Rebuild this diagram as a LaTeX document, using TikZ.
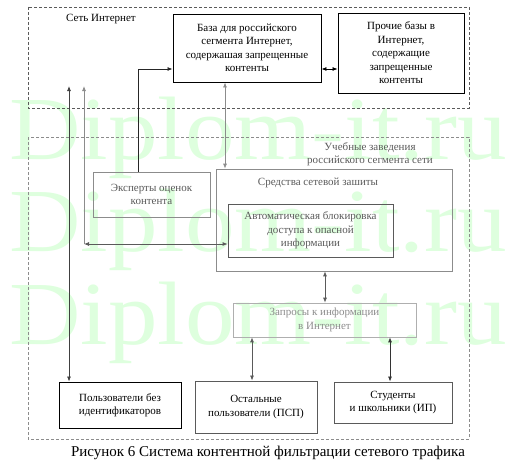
\documentclass[tikz,border=0pt]{standalone}
\usepackage{fontspec}
\setmainfont{Liberation Serif}
\usetikzlibrary{arrows.meta,calc}
\definecolor{wm}{RGB}{222,255,222}
\definecolor{g1}{RGB}{90,90,90}
\definecolor{g2}{RGB}{140,140,140}
\definecolor{g3}{RGB}{175,175,175}
\tikzset{
  box/.style={draw, line width=0.9pt, align=center, inner sep=1pt,
    font=\fontsize{11}{13.5}\selectfont},
  graybox/.style={box, draw=g2, text=g1, line width=0.7pt},
  lightbox/.style={box, draw=g3, text=g2, line width=0.7pt},
  dashbox/.style={draw, dash pattern=on 3pt off 2pt, line width=0.8pt},
  conn/.style={line width=0.8pt, {Latex[length=5pt,width=4pt]}-{Latex[length=5pt,width=4pt]}},
  oneway/.style={line width=0.8pt, -{Latex[length=5pt,width=4pt]}},
  wmark/.style={text=wm, font=\fontsize{90}{92}\selectfont, xscale=1.1, inner sep=0pt, anchor=base}
}
\begin{document}
\begin{tikzpicture}[x=1pt,y=-1pt]
\useasboundingbox (0,0) rectangle (513,460);
\fill[white] (0,0) rectangle (513,460);
% watermark
\node[wmark] (wm1) at (258,159) {Diplom-it.ru};
\node[wmark] (wm2) at (258,251) {Diplom-it.ru};
\node[wmark] (wm3) at (258,344) {Diplom-it.ru};
% dashed regions
\draw[dashbox, draw=g1] (28,7) rectangle (469,108);
\draw[dashbox, draw=g2] (28,137) rectangle (469,439);
\node[font=\fontsize{11}{13}\selectfont, anchor=west, inner sep=0pt] (net) at (66,19) {Сеть Интернет};
\node[font=\fontsize{11}{13.5}\selectfont, text=g1, align=center, inner sep=0pt] (edu) at (370,154) {Учебные заведения\\российского сегмента сети};
% top boxes
\node[box, minimum width=148pt, minimum height=68pt] (base) at (247,48)
  {База для российского\\сегмента Интернет,\\содержашая запрещенные\\контенты};
\node[box, minimum width=126pt, minimum height=80pt] (other) at (401,53)
  {Прочие базы в\\Интернет,\\содержащие\\запрещенные\\контенты};
% middle
\node[graybox, minimum width=117pt, minimum height=45pt] (exp) at (151.5,194.5)
  {Эксперты оценок\\контента};
\node[graybox, draw=g2, minimum width=236pt, minimum height=102pt] (sred) at (334,220) {};
\node[font=\fontsize{11}{13}\selectfont, text=g1, inner sep=0pt] (sredl) at (318,183) {Средства сетевой зашиты};
\node[box, draw=g1, text=g1, line width=0.8pt, minimum width=165pt, minimum height=53pt] (auto) at (310.5,230.5)
  {Автоматическая блокировка\\доступа к опасной\\информации};
\node[lightbox, minimum width=183pt, minimum height=34pt] (zap) at (324.5,320)
  {Запросы к информации\\в Интернет};
% bottom
\node[box, minimum width=122pt, minimum height=46pt] (pbi) at (120,405)
  {Пользователи без\\идентификаторов};
\node[box, draw=g1, minimum width=122pt, minimum height=52pt] (psp) at (256,407)
  {Остальные\\пользователи (ПСП)};
\node[box, draw=g1, minimum width=118pt, minimum height=41pt] (ip) at (393,402.5)
  {Студенты\\и школьники (ИП)};
% helper coordinates
\coordinate (x69) at (69,86);
\coordinate (x84) at (84,86);
\coordinate (c84) at (84,244);
\coordinate (x138) at (138,0);
\coordinate (y69) at (0,69);
\coordinate (x225) at (225,0);
\coordinate (x325) at (325,0);
\coordinate (x252) at (252,0);
\coordinate (x390) at (390,0);
% connectors
\draw[conn, draw=black] (base.east |- y69) -- (other.west |- y69);
\draw[oneway, draw=black!85] (exp.north -| x138) |- (base.west |- y69);
\draw[conn, draw=g2] (base.south -| x225) -- (sred.north -| x225);
\draw[conn, draw=black!75] (pbi.north -| x69) -- (x69);
\draw[oneway, draw=g2] (c84) -- (x84);
\draw[conn, draw=g1] (c84) -- (auto.west |- c84);
\draw[conn, draw=g1] (sred.south -| x325) -- (zap.north -| x325);
\draw[conn, draw=g1] (zap.south -| x252) -- (psp.north -| x252);
\draw[conn, draw=black!80] (zap.south -| x390) -- (ip.north -| x390);
% caption
\node[font=\fontsize{15}{17}\selectfont, inner sep=0pt] (cap) at (268,453) {Рисунок 6 Система контентной фильтрации сетевого трафика};
\end{tikzpicture}
\end{document}
